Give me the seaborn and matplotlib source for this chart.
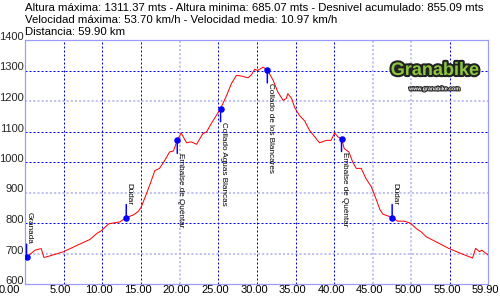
import matplotlib
matplotlib.use("Agg")
import matplotlib.pyplot as plt
import matplotlib.patheffects as pe
import matplotlib.transforms as mtransforms
import seaborn as sns
import pandas as pd

# ---- data ----
distance_km = [0.2, 1.3, 1.9, 2.1, 2.45, 3.2, 5.0, 7.1, 8.4, 9.3, 9.9, 10.8, 12.3, 13.1,
               14.0, 14.6, 15.0, 15.7, 16.2, 16.8, 17.4, 18.1, 18.7, 19.2, 19.7, 20.2,
               20.9, 21.5, 22.2, 23.0, 23.5, 24.1, 25.3, 26.1, 26.7, 27.35, 28.0, 28.85,
               29.3, 29.7, 30.1, 30.8, 31.35, 32.1, 32.7, 33.4, 33.8, 34.0, 34.5, 34.9,
               35.5, 36.2, 36.8, 37.5, 38.1, 39.0, 39.6, 40.05, 40.5, 40.95, 41.3, 41.9,
               42.4, 42.85, 43.5, 44.1, 44.8, 45.4, 45.9, 46.3, 47.5, 48.2, 49.1, 49.9,
               50.6, 51.25, 51.9, 53.2, 54.8, 56.4, 57.9, 58.3, 58.8, 59.1, 59.9]
altitude_m = [688, 711, 715, 716, 687, 692, 706, 731, 746, 766, 775, 797, 804, 818,
              826, 837, 850, 895, 929, 972, 979, 1006, 1033, 1036, 1071, 1095,
              1063, 1066, 1058, 1093, 1099, 1126, 1175, 1219, 1257, 1284, 1282, 1276,
              1286, 1304, 1300, 1311, 1302, 1268, 1230, 1202, 1208, 1224, 1208, 1178,
              1153, 1134, 1104, 1082, 1063, 1071, 1071, 1095, 1082, 1077, 1044, 1033,
              1000, 979, 979, 946, 919, 880, 845, 829, 818, 806, 806, 799,
              782, 771, 755, 738, 717, 700, 685, 717, 706, 711, 695]

waypoint_names = ["Granada", "Dúdar", "Embalse de Quéntar", "Collado Aguas Blancas",
                  "Collado de los Blancares", "Embalse de Quéntar", "Dúdar"]
waypoint_km = [0.2, 13.1, 19.7, 25.3, 31.35, 40.95, 47.5]
waypoint_alt = [688, 818, 1071, 1175, 1302, 1077, 818]
waypoint_side = ["above", "above", "below", "below", "below", "below", "above"]

y_ticks = [600, 700, 800, 900, 1000, 1100, 1200, 1300, 1400]
x_ticks = [0, 5, 10, 15, 20, 25, 30, 35, 40, 45, 50, 55, 59.9]
x_tick_labels = ["0.00", "5.00", "10.00", "15.00", "20.00", "25.00", "30.00", "35.00",
                 "40.00", "45.00", "50.00", "55.00", "59.90"]

header_lines = [
    "Altura máxima: 1311.37 mts - Altura minima: 685.07 mts - Desnivel acumulado: 855.09 mts",
    "Velocidad máxima: 53.70 km/h - Velocidad media: 10.97 km/h",
    "Distancia: 59.90 km",
]

# ---- style ----
sns.set_style("white")
plt.rcParams["font.family"] = ["Liberation Sans", "DejaVu Sans"]

fig = plt.figure(figsize=(5, 3), dpi=100)
fig.patch.set_facecolor("white")
ax = fig.add_axes([25 / 500, 1 - 284 / 300, 463 / 500, 244 / 300])
ax.set_facecolor("white")

PX = 0.72  # points per pixel at 100 dpi

# grid lines (some darker, some lighter as in the reference)
dark_h = {800, 1000, 1100, 1300}
dark_v = {5, 10, 15, 25, 30, 35, 40, 55}
for y in y_ticks[1:-1]:
    if y in dark_h:
        ax.axhline(y, color="#0000ee", lw=1 * PX, dashes=(2, 2), zorder=1)
    else:
        ax.axhline(y, color="#b4b4ee", lw=1.6 * PX, dashes=(1.3, 1.3), zorder=1)
for x in x_ticks[1:-1]:
    if x in dark_v:
        ax.axvline(x, color="#0000ee", lw=1 * PX, dashes=(2, 2), zorder=1)
    else:
        ax.axvline(x, color="#b4b4ee", lw=1.6 * PX, dashes=(1.3, 1.3), zorder=1)

profile = pd.DataFrame({"km": distance_km, "alt": altitude_m})
sns.lineplot(data=profile, x="km", y="alt", ax=ax, color="#ff0000", lw=1 * PX,
             zorder=3, sort=False)

wp = pd.DataFrame({"km": waypoint_km, "alt": waypoint_alt})
sns.scatterplot(data=wp, x="km", y="alt", ax=ax, color="#0000ff", s=22,
                edgecolor="#0000ff", linewidth=0, zorder=5)

for name, xk, ya, side in zip(waypoint_names, waypoint_km, waypoint_alt, waypoint_side):
    off = 13 * PX
    dy = off if side == "above" else -off
    ax.annotate("", xy=(xk, ya), xytext=(0, dy), textcoords="offset points",
                arrowprops=dict(arrowstyle="-", color="#0000ff", lw=1.5 * PX,
                                shrinkA=0, shrinkB=0), zorder=4)
    ax.annotate(name, xy=(xk, ya), xytext=(-0.5 * PX, dy), textcoords="offset points",
                rotation=270, rotation_mode="default", ha="left",
                va="bottom" if side == "above" else "top",
                fontsize=5.9, color="black", zorder=6)

ax.set_xlim(0, 59.9)
ax.set_ylim(600, 1400)
ax.set_xticks(x_ticks)
ax.set_xticklabels([])
ax.set_yticks(y_ticks)
ax.set_yticklabels([str(v) for v in y_ticks], fontsize=8)
for lbl in ax.get_yticklabels():
    lbl.set_va("baseline")
ax.tick_params(axis="both", length=0, pad=1.5)
ax.tick_params(axis="y", pad=1.0)

# x tick labels, slightly left of their ticks as in the reference
xlab_tr = ax.get_xaxis_transform() + mtransforms.ScaledTranslation(
    -3 / 100, -1 / 100, fig.dpi_scale_trans)
for i, (xv, lab) in enumerate(zip(x_ticks, x_tick_labels)):
    ha = "center"
    dx = 0
    if i == 0:
        ha = "right"
        dx = -2 / 100
    tr = xlab_tr + mtransforms.ScaledTranslation(dx, 0, fig.dpi_scale_trans)
    ax.text(xv, 0, lab, transform=tr, ha=ha, va="top", fontsize=8, color="black",
            clip_on=False)

ax.set_xlabel("")
ax.set_ylabel("")
for sp in ax.spines.values():
    sp.set_visible(True)
    sp.set_color("#9a9aff")
    sp.set_linewidth(1.2 * PX)

# header text
for i, (line, yb) in enumerate(zip(header_lines, [11, 23, 35])):
    fig.text(25 / 500, 1 - yb / 300, line, fontsize=8.2, va="baseline", ha="left",
             color="black")

# logo
ax.text(0.885, 0.875, "Granabike", transform=ax.transAxes, ha="center", va="center",
        fontsize=13, fontweight="bold", color="#8cc63f", zorder=7,
        path_effects=[pe.withStroke(linewidth=3, foreground="#222222")])
ax.text(0.885, 0.80, "www.granabike.com", transform=ax.transAxes, ha="center",
        va="center", fontsize=3.8, fontweight="bold", color="white", zorder=7,
        path_effects=[pe.withStroke(linewidth=1.6, foreground="#222222")])

fig.savefig("out.png", dpi=100, facecolor="white")
